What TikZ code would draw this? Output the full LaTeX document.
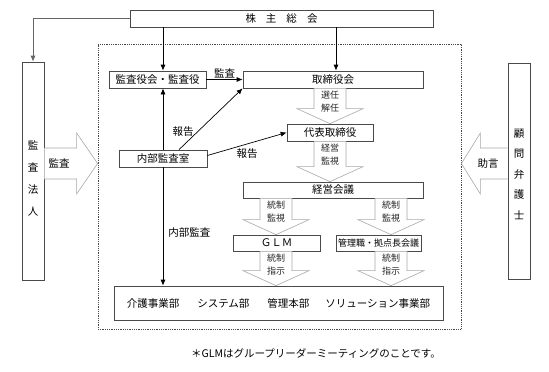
\documentclass[tikz,border=0pt]{standalone}
\usepackage{fontspec}
\setmainfont{Noto Sans CJK JP}
\usetikzlibrary{arrows.meta,calc}
\definecolor{boxline}{HTML}{4A4A4A}
\definecolor{blockline}{HTML}{A8A8A8}
\tikzset{
  orgbox/.style={rectangle, draw=boxline, line width=0.7pt, fill=white,
    inner sep=0pt, font=\fontsize{10.5}{12}\selectfont,
    minimum width=#1, minimum height=17pt},
  orgbox/.default=90pt,
  tallbox/.style={rectangle, draw=boxline, line width=0.7pt,
    inner sep=0pt, minimum width=22pt, minimum height=#1},
  linkarrow/.style={-{Latex[length=6pt,width=5pt]}, line width=0.7pt},
  blockarrow/.style={draw=blockline, fill=white, line width=0.6pt},
  blocklabel/.style={font=\fontsize{9}{12.5}\selectfont, align=center,
    text=black!85, inner sep=0pt},
  linklabel/.style={font=\fontsize{10.5}{12}\selectfont, inner sep=1pt},
  vtext/.style={font=\fontsize{10.5}{#1}\selectfont, align=center, inner sep=0pt},
}
% wide hollow arrow pointing down: source, target, x centre, label
\newcommand{\blockdown}[4]{%
  \draw[blockarrow] let \p1=(#1.south), \p2=(#2.north) in
    ({#3pt-16pt},\y1) -- ({#3pt-16pt},\y2+15pt) -- ({#3pt-33pt},\y2+15pt)
    -- (#3pt,\y2) -- ({#3pt+33pt},\y2+15pt) -- ({#3pt+16pt},\y2+15pt)
    -- ({#3pt+16pt},\y1);
  \path let \p1=(#1.south) in node[blocklabel] at (#3pt,\y1-13pt) {#4};
}

\begin{document}
\begin{tikzpicture}[x=1pt, y=-1pt]
\useasboundingbox (0,0) rectangle (549,372);

% company frame
\node[draw=boxline, densely dotted, line width=0.8pt, inner sep=0pt,
  minimum width=363pt, minimum height=285pt] (group) at (279.5,186.5) {};

% boxes
\node[orgbox=303pt] (kabunushi) at (281.5,18.5)
  {株\hspace{10pt}主\hspace{10pt}総\hspace{10pt}会};
\node[tallbox=218pt] (kansahojin) at (33,171) {};
\node[vtext=22] (kansahojintext) at (33,178) {監\\査\\法\\人};
\node[tallbox=216pt] (komon) at (519,171) {};
\node[vtext=20.5] (komontext) at (519,174) {顧\\問\\弁\\護\\士};
\node[orgbox=97pt] (kansayaku) at (157.5,79.5) {監査役会・監査役};
\node[orgbox=180pt] (torishimari) at (333,79.5) {取締役会};
\node[orgbox=88pt] (naibu) at (163,158.5) {内部監査室};
\node[orgbox=86pt] (daihyo) at (330,132.5) {代表取締役};
\node[orgbox=180pt, minimum height=16pt] (keiei) at (333,190) {経営会議};
\node[orgbox=87pt, minimum height=16pt] (glm) at (276.5,243) {ＧＬＭ};
\node[orgbox=85pt, minimum height=16pt, font=\fontsize{9}{11}\selectfont]
  (kanri) at (378.5,243) {管理職・拠点長会議};
\node[orgbox=329pt, minimum height=34pt] (jigyo) at (278.5,303)
  {介護事業部\hspace{18pt}システム部\hspace{18pt}管理本部\hspace{16pt}ソリューション事業部};

% thin connectors
\draw[linkarrow, draw=black!60] (kabunushi.west) -| (kansahojin.north);
\draw[linkarrow] (kabunushi.south -| naibu.north) -- (kansayaku.north -| naibu.north);
\draw[linkarrow] ([xshift=3pt]kabunushi.south -| torishimari.north)
  -- ([xshift=3pt]torishimari.north);
\draw[linkarrow] (kansayaku) -- node[above, linklabel] {監査} (torishimari);
\draw[linkarrow] (naibu.north) -- (kansayaku.south -| naibu.north);
\draw[linkarrow] (naibu.south) -- node[pos=0.55, right=4pt, linklabel] {内部監査}
  (jigyo.north -| naibu.south);
\draw[linkarrow] ([xshift=16pt]naibu.north) -- node[pos=0.3, left=3pt, linklabel] {報告}
  (torishimari.south west);
\draw[linkarrow] ([yshift=3pt]naibu.east) -- node[midway, below=3pt, linklabel] {報告}
  (daihyo.west);

% hollow arrows
\blockdown{torishimari}{daihyo}{330}{選任\\解任}
\blockdown{daihyo}{keiei}{330}{経営\\監視}
\blockdown{keiei}{glm}{276}{統制\\監視}
\blockdown{keiei}{kanri}{391}{統制\\監視}
\blockdown{glm}{jigyo}{276}{統制\\指示}
\blockdown{kanri}{jigyo}{391}{統制\\指示}
\draw[blockarrow] let \p1=(kansahojin.east), \p2=(group.west) in
  (\x1,-148pt) -- (\x2-21pt,-148pt) -- (\x2-21pt,-133pt) -- (\x2,-163.5pt)
  -- (\x2-21pt,-194pt) -- (\x2-21pt,-179pt) -- (\x1,-179pt);
\node[linklabel] (kansalabel) at (59,163.5) {監査};
\draw[blockarrow] let \p1=(komon.west), \p2=(group.east) in
  (\x1,-148pt) -- (\x2+19pt,-148pt) -- (\x2+19pt,-133pt) -- (\x2,-163.5pt)
  -- (\x2+19pt,-194pt) -- (\x2+19pt,-179pt) -- (\x1,-179pt);
\node[linklabel] (jogenlabel) at (488,163.5) {助言};

% note
\node[linklabel] (note) at (316,353) {＊GLMはグループリーダーミーティングのことです。};
\end{tikzpicture}
\end{document}
